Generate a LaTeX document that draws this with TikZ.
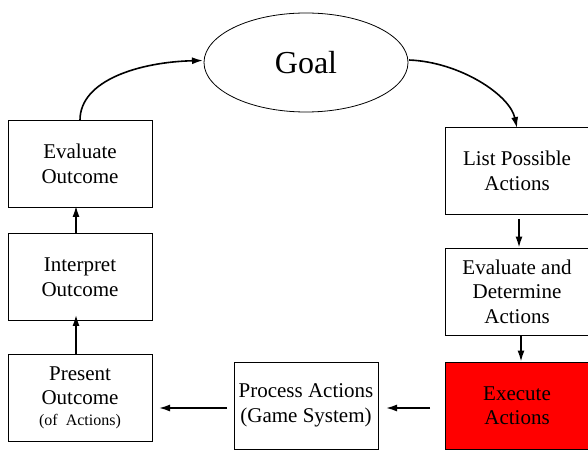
\documentclass[tikz,border=0pt]{standalone}
\usepackage{fontspec}
\setmainfont{Liberation Serif}
\usetikzlibrary{arrows.meta,shapes.geometric}
\begin{document}
\begin{tikzpicture}[x=1pt,y=-1pt,
  stage/.style={draw, line width=0.8pt, minimum width=144pt, minimum height=87pt,
    inner sep=0pt, align=center, font=\fontsize{21}{24.5}\selectfont},
  flow/.style={line width=1.6pt, -{Latex[length=11pt,width=7pt]}}]
\useasboundingbox (0,0) rectangle (588,454);
% goal ellipse
\node[draw, line width=0.8pt, ellipse, minimum width=204pt, minimum height=99pt,
  inner sep=0pt, font=\fontsize{32}{36}\selectfont] (goal) at (306,62.5) {Goal};
% left column
\node[stage] (eo) at (80,164) {Evaluate\\Outcome};
\node[stage] (io) at (80,277) {Interpret\\Outcome};
\node[stage] (po) at (80,397.5) {Present\\Outcome\\[-4pt]{\fontsize{16}{18}\selectfont(of\ \ Actions)}};
% bottom middle
\node[stage] (pa) at (306,405.5) {Process Actions\\(Game System)};
% right column
\node[stage] (lp) at (517,171) {List Possible\\Actions};
\node[stage] (ed) at (517,291.5) {Evaluate and\\Determine\\Actions};
\node[stage, fill=red] (ex) at (517,405.5) {Execute\\Actions};
% connectors
\coordinate (g1) at (203,60.5);
\coordinate (g2) at (409,60);
\draw[flow] (eo.north) .. controls (80,80) and (140,62) .. (g1);
\draw[flow] (g2) .. controls (460,62) and (510,95) .. ([yshift=-1pt]lp.north);
\draw[flow] ([xshift=2pt,yshift=-4pt]lp.south) -- ([xshift=2pt]ed.north);
\draw[flow] ([xshift=4pt]ed.south) -- ([xshift=4pt]ex.north);
\draw[flow] ([xshift=-4pt]io.north) -- ([xshift=-4pt,yshift=2pt]eo.south);
\draw[flow] ([xshift=-4pt]po.north) -- ([xshift=-4pt,yshift=6pt]io.south);
\coordinate (a1) at (430,408);
\coordinate (a2) at (386,408);
\coordinate (b1) at (227,408);
\coordinate (b2) at (159,408);
\draw[flow] (a1) -- (a2);
\draw[flow] (b1) -- (b2);
\end{tikzpicture}
\end{document}
